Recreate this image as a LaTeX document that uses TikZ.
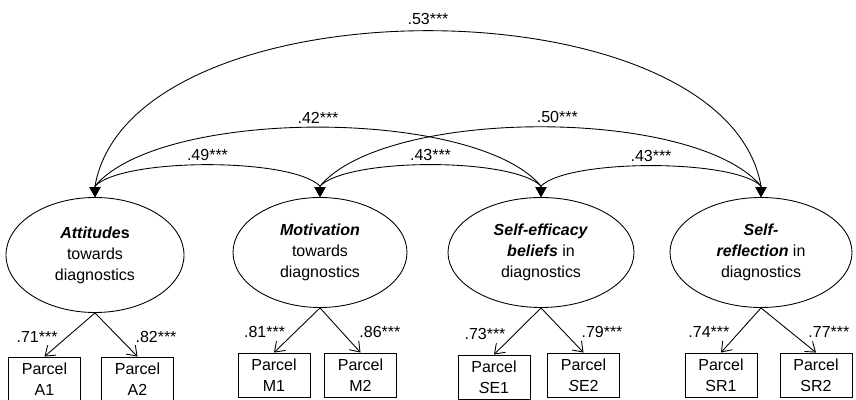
\documentclass[tikz,border=0pt]{standalone}
\usepackage{fontspec}
\setmainfont{Liberation Sans}
\usetikzlibrary{arrows.meta,positioning,shapes.geometric}
\tikzset{
  % all text: Arial-like, small
  every node/.append style={font=\fontsize{9.1}{12}\selectfont},
  % latent factors
  latent/.style={
    draw,
    ellipse,
    line width=0.5pt,
    minimum width=3.6cm,
    minimum height=2.2cm,
    inner sep=0pt,
    align=center
  },
  % observed parcels
  parcel/.style={
    draw,
    line width=0.5pt,
    minimum width=1.44cm,
    minimum height=0.88cm,
    inner sep=1pt,
    align=center
  },
  % loadings
  load/.style={-{Straight Barb[length=1.8mm,width=2.6mm]}, line width=0.5pt},
  % correlations
  cov/.style={{Triangle[length=2mm,width=2.2mm]}-{Triangle[length=2mm,width=2.2mm]}, line width=0.5pt},
  coef/.style={inner sep=1pt},
}

\begin{document}
\begin{tikzpicture}
    \useasboundingbox (0,0) rectangle (17.12,8);

    % latente Faktoren
    \node[latent, minimum width=3.56cm, minimum height=2.3cm] (att) at (1.90, 2.90) {\textbf{\textit{Attitude}s}\\towards\\diagnostics};
    \node[latent, minimum width=3.48cm] (mot) at (6.40, 2.95) {\textbf{\textit{Motivation}}\\towards\\diagnostics};
    \node[latent, minimum width=3.72cm] (sef) at (10.82, 2.95) {\textbf{\textit{Self-efficacy}}\\\textbf{\textit{beliefs}} in\\diagnostics};
    \node[latent, minimum width=3.64cm] (srf) at (15.22, 2.95) {\textbf{\textit{Self-}}\\\textbf{\textit{reflection}} in\\diagnostics};

    % Parcels
    \node[parcel] (a1) at (0.89, 0.42) {Parcel\\A1};
    \node[parcel] (a2) at (2.75, 0.42) {Parcel\\A2};
    \node[parcel] (m1) at (5.48, 0.50) {Parcel\\M1};
    \node[parcel] (m2) at (7.21, 0.50) {Parcel\\M2};
    \node[parcel] (se1) at (9.88, 0.46) {Parcel\\\textit{S}E1};
    \node[parcel] (se2) at (11.67, 0.50) {Parcel\\\textit{S}E2};
    \node[parcel] (sr1) at (14.42, 0.50) {Parcel\\SR1};
    \node[parcel] (sr2) at (16.32, 0.50) {Parcel\\SR2};

    % Ladungen
    \draw[load] (att.south) -- node[coef, pos=.55, left=1.5mm] {.71***} (a1.north);
    \draw[load] (att.south) -- node[coef, pos=.55, right=3mm] {.82***} (a2.north);
    \draw[load] (mot.south) -- node[coef, pos=.55, left=1.5mm] {.81***} (m1.north);
    \draw[load] (mot.south) -- node[coef, pos=.55, right=3mm] {.86***} (m2.north);
    \draw[load] (sef.south) -- node[coef, pos=.55, left=1.5mm] {.73***} (se1.north);
    \draw[load] (sef.south) -- node[coef, pos=.55, right=3mm] {.79***} (se2.north);
    \draw[load] (srf.south) -- node[coef, pos=.55, left=1.5mm] {.74***} (sr1.north);
    \draw[load] (srf.south) -- node[coef, pos=.55, right=3mm] {.77***} (sr2.north);

    % Korrelationen
    \coordinate (att-t) at ([yshift=2.2mm]att.north);
    \coordinate (mot-t) at ([yshift=2.2mm]mot.north);
    \coordinate (sef-t) at ([yshift=2.2mm]sef.north);
    \coordinate (srf-t) at ([yshift=2.2mm]srf.north);

    \draw[cov] (att.north) -- (att-t) to[out=45, in=135, looseness=0.46] node[coef, midway, above=1pt] {.49***} (mot-t) -- (mot.north);
    \draw[cov] (mot.north) -- (mot-t) to[out=45, in=135, looseness=0.47] node[coef, midway, above=1pt] {.43***} (sef-t) -- (sef.north);
    \draw[cov] (sef.north) -- (sef-t) to[out=45, in=135, looseness=0.45] node[coef, midway, above=1pt] {.43***} (srf-t) -- (srf.north);
    \draw[cov] (att.north) -- (att-t) to[out=50, in=130, looseness=0.59] node[coef, midway, above=1pt] {.42***} (sef-t) -- (sef.north);
    \draw[cov] (mot.north) -- (mot-t) to[out=50, in=130, looseness=0.60] node[coef, pos=.53, above=1pt] {.50***} (srf-t) -- (srf.north);
    \draw[cov] (att.north) -- (att-t) to[out=80, in=100, looseness=0.81] node[coef, midway, above=2pt] {.53***} (srf-t) -- (srf.north);
\end{tikzpicture}
\end{document}
